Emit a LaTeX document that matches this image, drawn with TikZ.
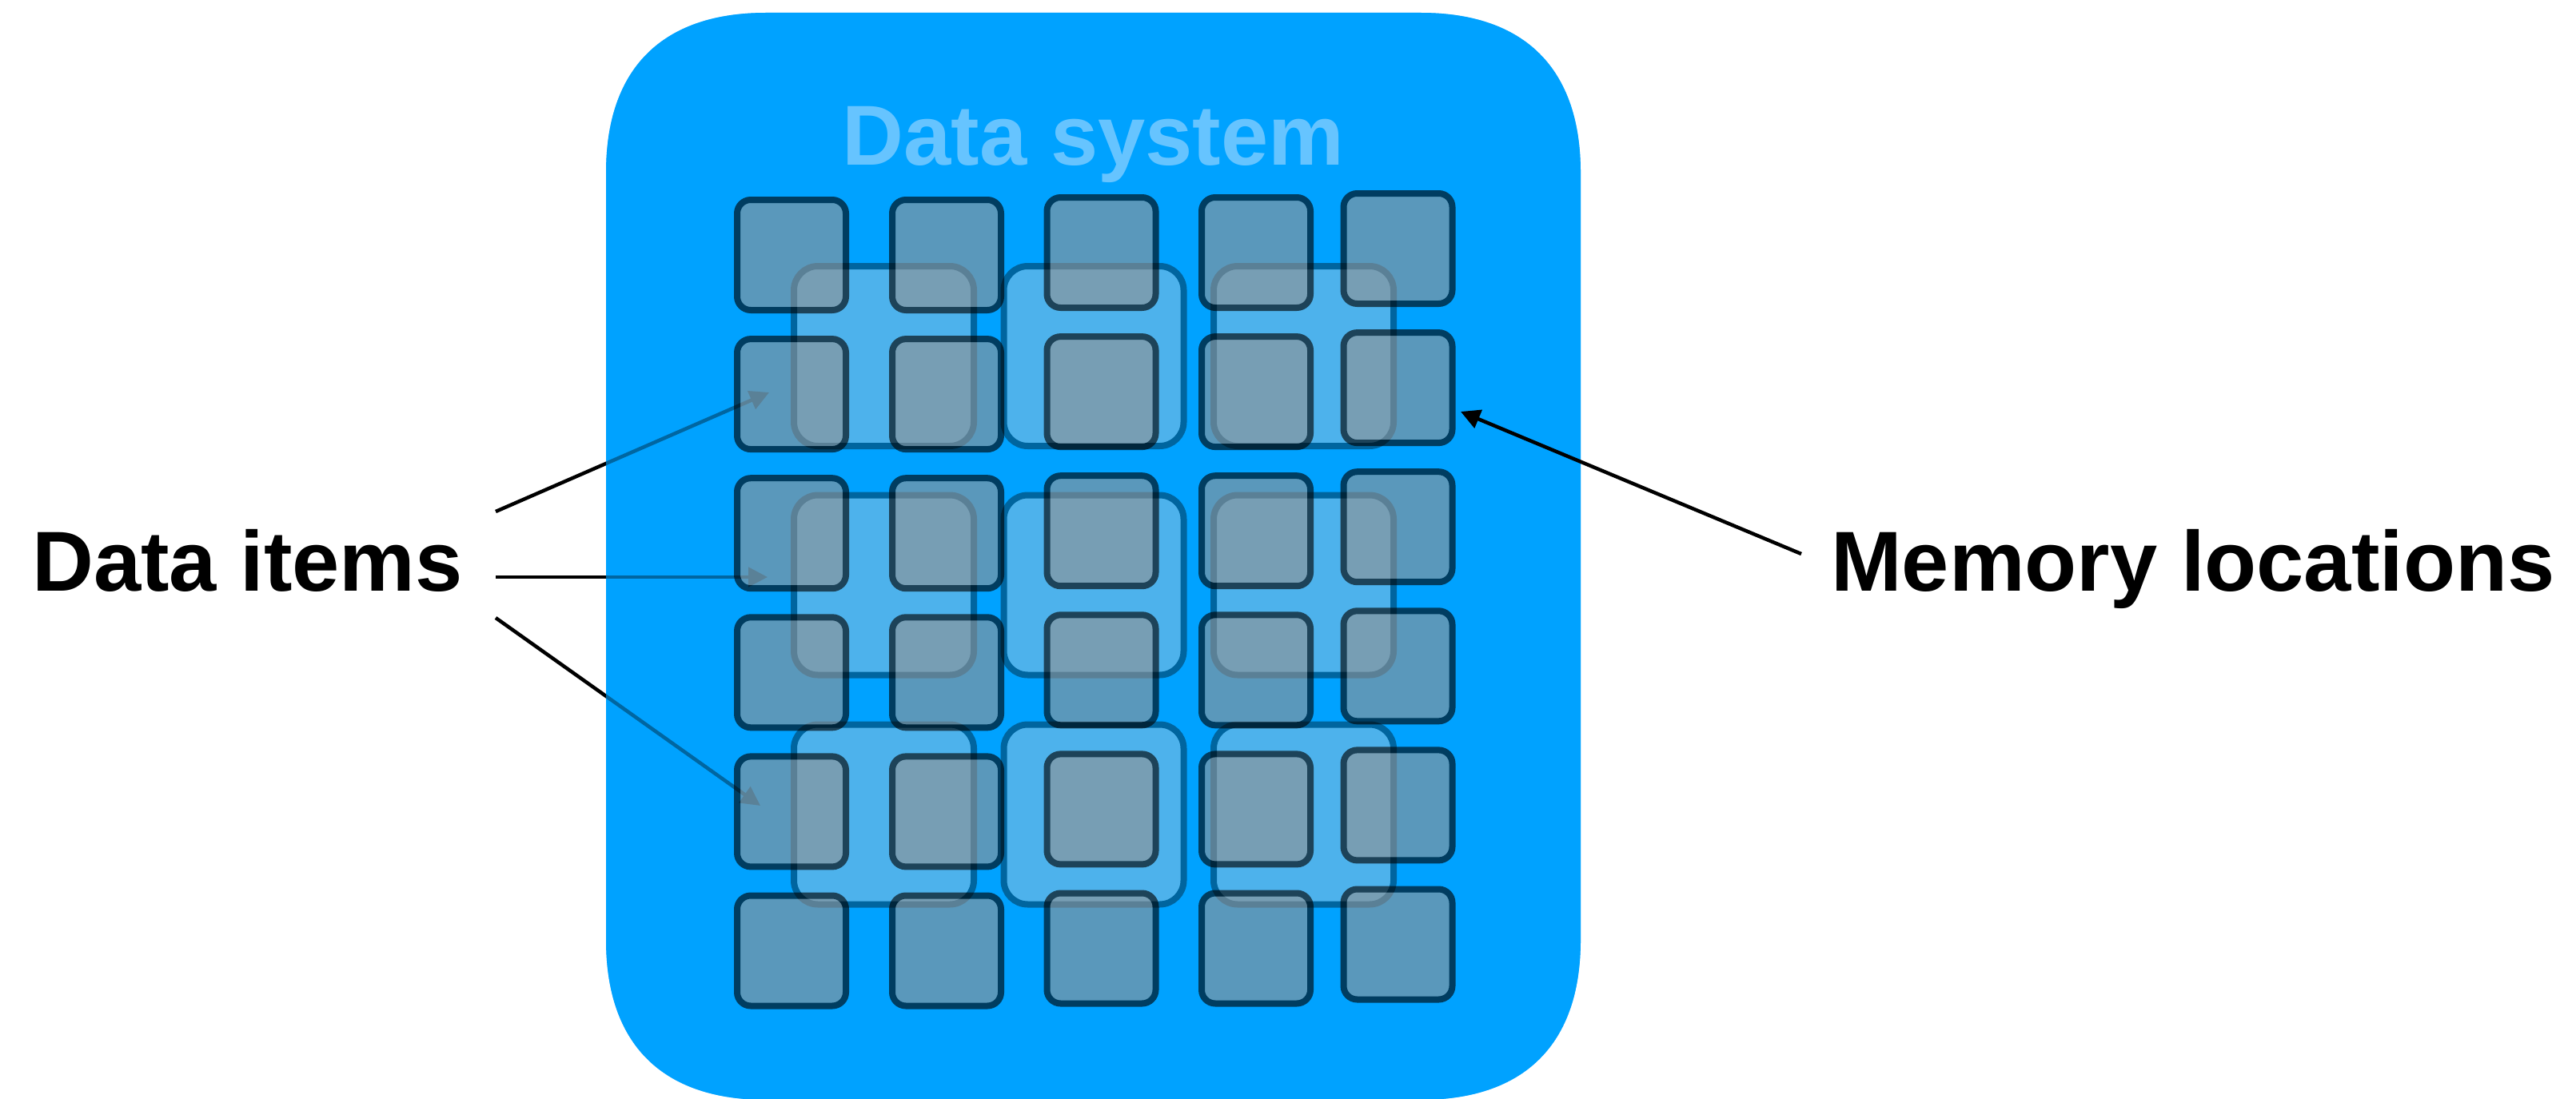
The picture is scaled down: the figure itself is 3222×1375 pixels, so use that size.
\documentclass[tikz,border=0pt]{standalone}
\usepackage{fontspec}
\setmainfont{Liberation Sans}
\usetikzlibrary{arrows.meta}

\definecolor{boxblue}{RGB}{0,162,255}
\definecolor{titleblue}{RGB}{102,196,255}
\definecolor{cellgray}{RGB}{146,146,146}
\definecolor{itemgray}{RGB}{207,207,207}

\tikzset{
  cell/.style={draw=black, fill=cellgray, line width=8pt, rounded corners=17pt,
    minimum width=136pt, minimum height=138pt, inner sep=0pt, outer sep=0pt},
  item/.style={draw=black, fill=itemgray, line width=8pt, rounded corners=30pt,
    minimum width=225pt, minimum height=225pt, inner sep=0pt, outer sep=0pt},
  caption/.style={font=\fontsize{106.5}{120}\selectfont\bfseries, inner sep=0pt, text=black},
  pointer/.style={line width=4.5pt, -{Triangle[length=24pt,width=24pt]}},
  sysbox/.style={fill=boxblue},
}

\newcommand{\systemoutline}{%
  (758,216) .. controls (758,86) and (828,16) .. (958,16)
  -- (1777,16) .. controls (1907,16) and (1977,86) .. (1977,216)
  -- (1977,1176) .. controls (1977,1306) and (1907,1376) .. (1777,1376)
  -- (958,1376) .. controls (828,1376) and (758,1306) .. (758,1176) -- cycle}

\begin{document}
\begin{tikzpicture}[x=1pt, y=-1pt]
  % canvas
  \fill[white] (0,0) rectangle (3222,1375);
  \useasboundingbox (0,0) rectangle (3222,1375);

  % captions
  \node[caption, anchor=base west] (items) at (40,739) {Data items};
  \node[caption, anchor=base west] (mem) at (2290,739) {Memory locations};

  % connector end points
  \coordinate (itemsA) at (620,640);
  \coordinate (itemsB) at (620,722);
  \coordinate (itemsC) at (620,773);
  \coordinate (tipA) at (962,491);
  \coordinate (tipB) at (960,722);
  \coordinate (tipC) at (951,1008);
  \coordinate (memfrom) at (2253,693);
  \coordinate (memtip) at (1827,515);

  % the data system container
  \fill[sysbox] \systemoutline;

  % pointers to the data items, tinted where they run inside the container
  \draw[pointer] (itemsA) -- (tipA);
  \draw[pointer] (itemsB) -- (tipB);
  \draw[pointer] (itemsC) -- (tipC);
  \fill[sysbox, fill opacity=0.63] \systemoutline;

  \node[font=\fontsize{106.5}{120}\selectfont\bfseries, text=titleblue, inner sep=0pt, anchor=base]
    (title) at (1367.5,207) {Data system};

  % data items
  \begin{scope}[transparency group, opacity=0.377]
    \foreach \c/\x in {1/1105.5, 2/1368, 3/1630.5}
      \foreach \r/\y in {1/445.5, 2/732, 3/1019}
        \node[item] (d-\r-\c) at (\x,\y) {};
  \end{scope}

  % memory locations
  \begin{scope}[transparency group, opacity=0.62]
    \foreach \c/\x/\dy in {1/990/0, 2/1184/0, 3/1377.5/-3, 4/1571/-3, 5/1748.5/-8}
      \foreach \r in {1,...,6}
        \node[cell] (m-\r-\c) at (\x,{319+174.1*(\r-1)+\dy}) {};
  \end{scope}

  \draw[pointer] (memfrom) -- (memtip);
\end{tikzpicture}
\end{document}
